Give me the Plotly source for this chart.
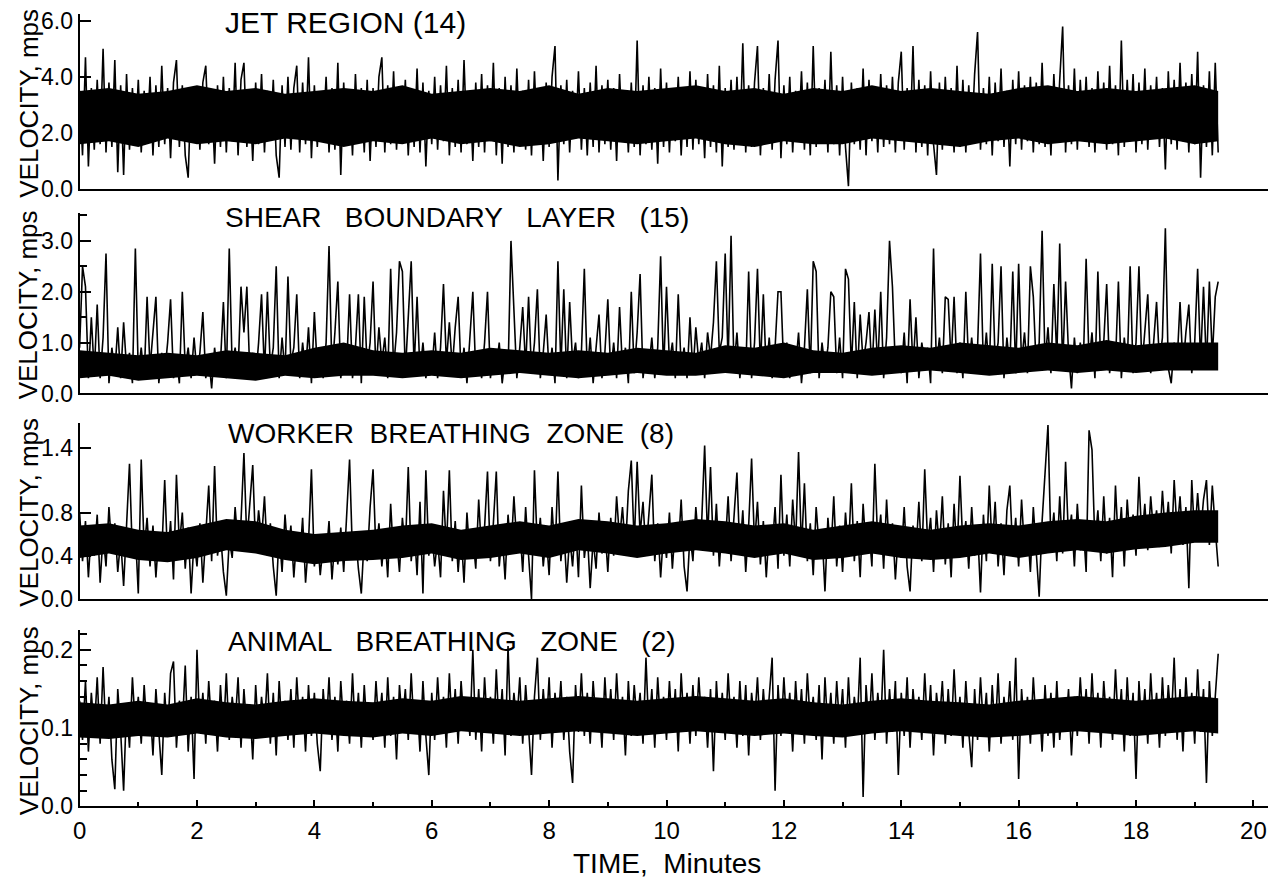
import plotly.graph_objects as go

# ---------------- data (velocity samples, one every 0.05 min) ----------------
SAMPLE_MIN = 0.05

jet_velocity = [
    3.5,1.2,4.7,0.8,3.6,1.4,3.9,1.6,5.0,1.3,3.8,1.5,4.6,0.6,3.7,0.5,4.1,1.4,3.6,1.7,
    3.9,1.3,3.5,1.8,4.0,1.2,3.7,1.5,4.4,1.6,3.6,1.1,3.8,4.6,1.5,3.7,1.2,0.4,3.6,1.8,
    3.5,1.4,3.8,4.4,1.6,3.3,0.9,3.7,1.5,4.0,1.3,3.6,1.7,4.5,1.2,3.9,4.5,1.5,3.4,1.0,
    3.8,1.6,4.1,1.3,3.5,1.8,3.9,1.2,0.4,3.7,1.5,4.0,1.4,3.6,4.4,1.3,3.8,1.6,4.7,1.1,
    3.7,1.5,3.4,1.9,4.0,1.3,3.6,1.4,4.5,0.5,3.8,1.6,3.5,1.2,4.1,1.7,3.6,1.3,3.9,1.0,
    3.6,1.5,4.0,4.7,1.3,3.7,1.6,4.2,1.4,3.5,1.8,3.9,1.2,3.6,1.5,4.3,1.3,3.8,0.8,3.5,
    1.6,4.0,1.4,3.7,1.7,4.4,1.2,3.6,1.5,3.9,1.3,4.6,1.6,3.5,1.0,3.8,1.5,4.1,1.3,3.7,
    1.7,4.5,1.2,3.6,0.9,4.0,1.5,3.7,1.3,4.3,1.6,3.5,1.4,3.9,1.2,4.2,1.7,3.6,1.0,3.8,
    1.5,4.0,5.1,0.3,3.7,1.6,3.9,1.3,3.5,1.8,4.2,1.4,3.6,1.2,3.8,1.5,4.4,1.3,3.7,1.6,
    3.9,1.4,3.6,1.0,4.1,1.7,3.5,1.3,3.8,1.5,5.3,1.2,3.7,1.6,4.0,1.4,3.6,0.9,4.3,1.5,
    3.8,1.3,3.5,1.7,4.0,1.2,3.6,1.5,4.2,1.4,3.9,1.6,3.5,1.1,4.1,1.5,3.7,1.3,4.4,0.8,
    3.6,1.5,3.9,1.4,4.0,1.6,5.2,1.3,3.7,1.5,3.8,5.1,1.2,3.6,1.7,4.1,1.4,3.9,5.3,1.1,
    3.7,1.6,4.0,1.3,3.5,1.8,4.2,1.4,3.8,1.2,5.1,1.5,3.6,1.7,3.9,1.3,4.9,1.6,3.7,1.2,
    4.0,1.5,0.1,3.8,1.6,3.6,1.4,4.3,1.2,3.9,1.7,3.5,1.3,4.1,1.5,3.7,1.6,4.0,1.3,3.8,
    4.9,1.4,3.6,1.7,5.1,1.3,3.9,1.5,3.7,1.2,4.2,1.6,0.5,3.8,1.4,4.0,1.7,3.6,1.3,4.4,
    1.5,3.9,1.3,3.7,1.8,4.1,5.6,1.4,3.6,1.6,4.0,1.2,3.8,1.7,4.3,1.5,3.5,0.8,3.9,1.6,
    4.2,1.4,3.7,1.7,4.0,1.3,3.8,1.6,4.5,1.5,3.6,1.2,4.1,1.7,3.9,5.8,1.3,3.7,1.6,4.3,
    1.4,3.9,1.8,4.0,1.5,3.6,1.3,4.2,1.7,3.8,1.4,4.4,1.6,3.7,1.2,5.3,1.5,3.9,1.7,4.1,
    1.3,3.8,1.6,4.3,1.4,3.7,1.8,4.0,1.5,3.6,0.7,4.2,1.6,3.9,1.4,4.5,1.7,3.8,1.3,4.1,
    1.6,4.9,0.4,3.7,1.5,4.2,1.2,4.5,1.3,
]

shear_velocity = [
    0.9,2.5,2.1,0.3,1.5,0.4,1.75,0.3,1.1,2.75,0.2,0.9,0.4,1.3,0.3,1.4,0.5,0.8,0.2,2.85,
    0.4,0.9,0.3,1.9,0.5,1.2,1.9,0.2,0.8,0.4,1.0,1.85,0.3,0.7,0.2,2.0,0.5,0.9,0.3,1.1,
    0.4,0.8,1.6,0.3,0.7,0.1,0.9,0.4,0.6,1.8,0.3,2.85,0.5,0.9,0.4,2.1,1.2,2.1,0.4,0.8,
    0.3,1.0,1.95,0.4,2.0,0.5,0.9,2.5,0.3,1.1,0.4,2.3,0.6,0.9,1.95,0.3,1.0,0.4,1.3,0.2,
    1.6,0.5,0.9,0.3,1.0,2.9,0.4,1.2,2.2,0.3,0.8,0.5,1.95,0.3,0.9,1.95,0.2,1.9,0.5,1.0,
    2.2,0.4,1.3,0.6,1.1,0.3,2.45,0.5,1.2,2.6,2.4,0.4,1.4,2.6,0.5,1.9,0.4,1.0,0.3,0.8,
    0.4,1.2,0.3,0.9,2.15,0.6,1.4,0.5,1.3,1.9,0.4,0.9,0.2,1.1,2.0,0.4,0.8,0.3,1.0,2.0,
    0.3,0.8,0.5,1.0,0.2,0.7,0.4,3.0,1.8,0.3,0.9,1.7,0.5,1.9,0.4,1.0,2.05,0.3,0.8,1.55,
    0.4,0.9,0.2,2.6,0.5,2.05,0.3,1.8,0.6,1.0,0.3,0.8,2.45,0.4,1.1,0.2,0.9,1.55,0.3,0.8,
    1.85,0.4,1.0,0.3,1.7,0.5,0.9,0.2,2.0,0.4,1.2,2.35,0.3,0.8,0.5,1.1,0.3,0.9,2.7,0.4,
    2.1,0.6,1.0,0.3,1.95,0.5,0.9,0.3,1.5,0.4,1.3,0.6,1.0,0.3,1.2,0.7,1.4,2.6,0.8,1.1,
    2.75,0.6,3.1,0.5,1.2,0.3,0.9,0.4,2.4,0.3,1.0,2.45,0.5,1.95,0.4,1.1,0.3,0.9,2.0,2.0,
    0.4,1.0,0.3,0.8,0.5,1.2,0.2,0.9,2.05,0.4,2.6,2.4,0.3,1.0,0.5,0.9,2.0,1.9,0.4,1.1,
    0.3,2.45,2.25,0.5,1.8,0.3,1.55,0.6,1.0,1.6,0.4,1.65,0.5,2.0,0.3,1.1,3.0,2.1,0.5,0.9,
    0.4,1.2,0.2,1.85,0.5,1.5,0.3,1.0,0.6,0.9,0.2,2.85,0.5,1.1,0.4,1.9,1.85,0.6,1.9,0.4,
    1.0,0.3,2.0,0.5,1.1,0.4,0.9,2.75,0.5,1.2,0.4,2.55,0.6,1.0,2.5,0.3,1.1,0.5,2.4,0.4,
    2.55,0.6,1.2,0.4,2.5,1.9,0.5,1.0,3.2,0.6,1.3,0.4,2.15,0.7,2.95,0.5,2.2,0.8,0.1,1.1,
    0.4,1.0,0.5,2.65,0.6,1.2,0.3,2.4,0.5,1.0,2.15,0.4,0.9,0.6,2.2,0.3,1.1,0.5,2.5,0.4,
    1.0,2.5,0.5,1.2,1.95,0.4,1.0,1.8,0.6,1.1,3.25,0.5,0.2,1.0,0.6,1.8,0.5,1.2,1.75,0.4,
    1.0,2.45,0.6,2.1,0.5,2.2,0.7,1.9,2.2,
]

worker_velocity = [
    0.80,0.35,0.72,0.20,0.65,0.40,0.78,0.15,0.60,0.30,0.85,0.45,0.70,0.25,0.55,0.12,0.68,1.25,0.40,0.62,
    0.05,1.29,0.45,0.75,0.30,0.68,0.20,0.60,0.42,1.10,0.35,0.72,0.18,1.15,0.50,0.80,0.28,0.66,0.05,0.55,
    0.30,0.70,0.15,0.58,1.05,0.35,1.23,0.40,0.62,0.25,0.03,0.55,0.38,0.85,0.48,0.72,1.35,0.52,0.90,1.24,
    0.45,0.82,0.55,0.95,0.40,0.70,0.30,0.03,0.62,0.25,0.78,0.40,0.68,0.20,0.58,0.35,0.75,0.15,0.52,1.20,
    0.30,0.60,0.22,0.50,0.38,0.72,0.18,0.55,0.32,0.66,0.25,0.80,1.29,0.40,0.62,0.28,0.05,0.58,0.35,0.85,
    1.20,0.42,0.70,0.30,0.62,0.20,0.88,0.38,0.58,0.25,0.75,0.45,1.22,0.35,0.68,0.22,0.90,0.05,1.19,0.40,
    0.65,0.30,0.55,0.20,1.00,0.45,1.19,0.35,0.72,0.25,0.62,0.15,0.80,0.38,0.58,0.28,0.92,0.42,0.66,1.18,
    0.35,0.70,1.18,0.30,0.62,0.18,0.78,0.42,0.95,0.50,0.68,0.25,0.85,0.40,0.00,1.19,0.45,0.75,0.30,0.60,
    0.22,0.85,0.40,1.18,0.35,0.65,0.15,0.58,0.30,0.72,0.20,1.05,0.38,0.62,0.10,0.55,0.28,0.80,0.42,0.68,
    0.25,0.75,0.40,0.95,0.55,0.85,0.45,1.00,1.28,0.50,1.27,0.60,0.90,0.42,0.78,1.15,0.35,0.70,0.20,0.62,
    0.38,0.80,0.28,0.68,0.45,0.92,0.30,0.07,0.60,0.35,0.85,0.50,0.72,1.42,0.55,1.22,0.40,0.88,0.30,0.70,
    0.48,0.95,0.35,0.75,1.17,0.42,0.82,0.25,0.68,1.30,0.50,0.90,0.32,0.72,0.20,0.65,0.45,0.85,0.28,1.15,
    0.40,0.78,0.30,0.92,0.50,1.36,0.45,1.07,0.35,0.70,0.22,0.85,0.48,0.62,0.07,0.75,0.40,0.95,0.30,0.68,
    0.25,0.80,0.42,1.07,0.35,0.72,0.20,0.88,0.45,0.65,0.30,1.25,0.50,0.78,0.28,0.92,0.40,0.70,0.18,0.62,
    0.38,0.85,0.30,0.07,0.68,0.42,0.90,0.35,1.20,0.50,0.75,0.25,0.82,0.45,0.95,0.32,0.70,0.20,0.88,0.40,
    1.14,0.48,0.72,0.28,0.85,0.40,0.65,0.06,0.78,0.35,1.05,0.45,0.90,0.30,0.70,0.22,0.82,1.05,0.42,0.75,
    0.30,0.92,0.45,0.68,0.25,0.85,0.38,0.02,0.72,1.17,1.61,0.50,0.80,0.35,0.95,0.42,1.27,0.55,0.78,0.30,
    0.88,0.45,0.70,0.25,1.56,1.38,0.50,0.82,0.35,0.95,0.42,0.75,0.20,1.05,0.48,0.85,0.30,0.92,0.52,0.78,
    0.40,1.13,0.55,0.88,0.45,0.95,0.60,0.82,0.48,1.00,0.58,0.90,0.42,1.10,0.62,0.95,0.50,0.85,0.10,1.10,
    0.55,0.98,0.60,0.92,1.10,0.50,1.05,0.65,0.30,
]

animal_velocity = [
    0.135,0.085,0.160,0.070,0.145,0.095,0.165,0.080,0.178,0.090,0.140,0.060,0.022,0.150,0.095,0.020,0.130,0.075,0.165,0.100,
    0.140,0.080,0.155,0.095,0.130,0.065,0.150,0.088,0.040,0.145,0.090,0.170,0.185,0.075,0.135,0.100,0.180,0.070,0.140,0.035,
    0.200,0.095,0.145,0.080,0.160,0.100,0.135,0.070,0.155,0.090,0.170,0.085,0.140,0.105,0.165,0.075,0.150,0.095,0.130,0.060,
    0.155,0.090,0.140,0.100,0.170,0.080,0.145,0.065,0.160,0.095,0.135,0.085,0.150,0.075,0.165,0.100,0.140,0.070,0.155,0.090,
    0.145,0.080,0.045,0.150,0.095,0.165,0.085,0.140,0.070,0.160,0.100,0.135,0.080,0.170,0.090,0.145,0.075,0.155,0.095,0.130,
    0.085,0.160,0.100,0.145,0.075,0.165,0.090,0.140,0.060,0.155,0.105,0.150,0.085,0.170,0.095,0.135,0.070,0.160,0.090,0.040,
    0.145,0.085,0.165,0.100,0.140,0.075,0.170,0.095,0.150,0.080,0.160,0.105,0.135,0.090,0.200,0.085,0.150,0.070,0.165,0.100,
    0.140,0.080,0.175,0.095,0.150,0.065,0.205,0.090,0.145,0.105,0.165,0.080,0.155,0.100,0.040,0.140,0.190,0.085,0.150,0.095,
    0.165,0.075,0.145,0.100,0.160,0.085,0.140,0.070,0.030,0.155,0.095,0.170,0.090,0.145,0.080,0.160,0.105,0.135,0.075,0.165,
    0.095,0.150,0.085,0.170,0.100,0.140,0.065,0.160,0.090,0.155,0.105,0.145,0.080,0.190,0.095,0.150,0.075,0.165,0.100,0.140,
    0.085,0.160,0.095,0.150,0.070,0.170,0.100,0.145,0.080,0.155,0.090,0.165,0.105,0.140,0.075,0.150,0.045,0.160,0.095,0.145,
    0.085,0.170,0.100,0.140,0.075,0.160,0.090,0.155,0.065,0.145,0.105,0.165,0.085,0.150,0.095,0.140,0.190,0.020,0.155,0.090,
    0.165,0.100,0.145,0.070,0.160,0.095,0.150,0.080,0.170,0.105,0.140,0.085,0.155,0.060,0.165,0.095,0.145,0.080,0.160,0.100,
    0.150,0.075,0.165,0.090,0.140,0.105,0.190,0.012,0.155,0.095,0.170,0.085,0.145,0.100,0.200,0.080,0.150,0.095,0.160,0.040,
    0.145,0.090,0.165,0.075,0.150,0.100,0.140,0.085,0.170,0.095,0.155,0.065,0.145,0.105,0.160,0.080,0.150,0.090,0.175,0.100,
    0.140,0.075,0.160,0.095,0.050,0.150,0.085,0.165,0.100,0.145,0.070,0.155,0.090,0.170,0.080,0.140,0.100,0.160,0.085,0.190,
    0.035,0.150,0.095,0.140,0.080,0.165,0.100,0.135,0.070,0.155,0.090,0.145,0.075,0.160,0.085,0.135,0.095,0.150,0.065,0.140,
    0.090,0.165,0.100,0.150,0.080,0.170,0.095,0.145,0.075,0.160,0.105,0.140,0.085,0.175,0.100,0.150,0.070,0.165,0.090,0.145,
    0.035,0.160,0.095,0.150,0.080,0.170,0.100,0.145,0.075,0.165,0.090,0.155,0.105,0.190,0.085,0.150,0.070,0.165,0.100,0.145,
    0.080,0.175,0.095,0.150,0.030,0.160,0.090,0.140,0.195,
]

# Dense core of each trace (where the recorder ink is solid black), read every 0.5 min
CORE_STEP_MIN = 0.5
jet_core_low = [1.6,1.7,1.5,1.8,1.6,1.7,1.6,1.8,1.7,1.5,1.7,1.6,1.8,1.6,1.7,1.5,1.6,1.8,1.7,1.6,
                1.7,1.8,1.6,1.5,1.7,1.6,1.6,1.8,1.7,1.6,1.5,1.7,1.8,1.6,1.7,1.6,1.7,1.8,1.6,1.7]
jet_core_high = [3.5,3.6,3.4,3.5,3.7,3.5,3.6,3.4,3.5,3.6,3.5,3.7,3.4,3.5,3.6,3.5,3.7,3.4,3.6,3.5,
                 3.6,3.7,3.5,3.6,3.4,3.6,3.5,3.7,3.5,3.6,3.5,3.4,3.6,3.7,3.5,3.6,3.5,3.6,3.7,3.5]
shear_core_low = [0.3,0.35,0.25,0.3,0.35,0.3,0.25,0.35,0.3,0.35,0.35,0.3,0.35,0.3,0.35,0.4,0.35,0.3,0.35,0.4,
                  0.35,0.35,0.4,0.35,0.3,0.4,0.4,0.35,0.4,0.45,0.4,0.35,0.4,0.45,0.4,0.45,0.4,0.45,0.45,0.45]
shear_core_high = [0.85,0.8,0.75,0.8,0.75,0.85,0.8,0.75,0.9,1.0,0.85,0.8,0.85,0.8,0.9,0.85,0.8,0.85,0.8,0.9,
                   0.85,0.8,0.95,0.9,1.0,0.85,0.8,0.9,0.95,0.9,1.0,0.95,0.9,1.0,0.95,1.05,0.95,1.0,1.0,1.0]
worker_core_low = [0.38,0.42,0.36,0.34,0.38,0.45,0.42,0.36,0.32,0.35,0.36,0.38,0.42,0.36,0.38,0.42,0.38,0.45,0.42,0.38,
                   0.42,0.45,0.42,0.38,0.42,0.36,0.38,0.42,0.38,0.36,0.38,0.42,0.38,0.42,0.45,0.42,0.46,0.48,0.52,0.52]
worker_core_high = [0.68,0.70,0.64,0.62,0.68,0.74,0.72,0.64,0.60,0.62,0.64,0.68,0.70,0.64,0.68,0.72,0.68,0.74,0.72,0.68,
                    0.70,0.74,0.72,0.68,0.70,0.64,0.68,0.72,0.68,0.64,0.68,0.70,0.68,0.72,0.74,0.72,0.77,0.80,0.82,0.82]
animal_core_low = [0.088,0.086,0.090,0.088,0.093,0.088,0.086,0.090,0.093,0.090,0.088,0.093,0.090,0.096,0.093,0.090,0.093,0.096,0.093,0.090,
                   0.093,0.096,0.093,0.090,0.093,0.090,0.088,0.093,0.096,0.093,0.090,0.088,0.090,0.093,0.096,0.093,0.090,0.093,0.096,0.093]
animal_core_high = [0.133,0.130,0.135,0.130,0.138,0.133,0.130,0.135,0.138,0.135,0.133,0.138,0.135,0.141,0.138,0.135,0.138,0.141,0.138,0.135,
                    0.138,0.141,0.138,0.135,0.138,0.133,0.130,0.135,0.138,0.135,0.133,0.130,0.135,0.138,0.141,0.138,0.135,0.138,0.141,0.138]

panel_titles = [
    "JET REGION (14)",
    "SHEAR\u00a0\u00a0\u00a0BOUNDARY\u00a0\u00a0\u00a0LAYER\u00a0\u00a0\u00a0(15)",
    "WORKER\u00a0\u00a0BREATHING\u00a0\u00a0ZONE\u00a0\u00a0(8)",
    "ANIMAL\u00a0\u00a0\u00a0BREATHING\u00a0\u00a0\u00a0ZONE\u00a0\u00a0\u00a0(2)",
]
y_tickvals = [[0, 2, 4, 6], [0, 1, 2, 3], [0, 0.4, 0.8, 1.4], [0, 0.1, 0.2]]
y_ticktext = [["0.0", "2.0", "4.0", "6.0"], ["0.0", "1.0", "2.0", "3.0"],
              ["0.0", "0.4", "0.8", "1.4"], ["0.0", "0.1", "0.2"]]
y_max = [6.25, 3.54, 1.63, 0.225]
y_minor = [None, 0.5, None, 0.02]
x_tickvals = list(range(0, 21, 2))
x_ticktext = [str(v) for v in x_tickvals]
y_title = "VELOCITY, mps"
x_title = "TIME,\u00a0\u00a0Minutes"

series = [jet_velocity, shear_velocity, worker_velocity, animal_velocity]
cores = [(jet_core_low, jet_core_high), (shear_core_low, shear_core_high),
         (worker_core_low, worker_core_high), (animal_core_low, animal_core_high)]

# ---------------- layout geometry (pixels of the 1281x882 page) ----------------
W, H = 1281, 882
FONT = "Liberation Sans, Arial, Helvetica, sans-serif"
panel_px = [(187, 8), (396, 212), (606, 426), (818, 638)]   # (bottom, top)
title_px = [(217, 17), (217, 216), (220, 437), (220, 649)]
title_size = [30, 28, 28, 28]
ytitle_cy = [99, 305, 517, 730]

fig = go.Figure()
layout = dict(
    width=W, height=H, margin=dict(l=0, r=0, t=0, b=0),
    paper_bgcolor="white", plot_bgcolor="white", showlegend=False,
    font=dict(family=FONT, color="black"),
)
annotations = []

for k, vals in enumerate(series):
    sfx = "" if k == 0 else str(k + 1)
    t = [i * SAMPLE_MIN for i in range(len(vals))]
    t_end = t[-1]
    low, high = cores[k]
    ct = [min(i * CORE_STEP_MIN, t_end) for i in range(len(low))]
    fig.add_trace(go.Scatter(
        x=ct, y=low, mode="lines", line=dict(width=0, color="black"),
        xaxis="x" + sfx, yaxis="y" + sfx, hoverinfo="skip",
    ))
    fig.add_trace(go.Scatter(
        x=ct, y=high, mode="lines", line=dict(width=0, color="black"),
        fill="tonexty", fillcolor="black",
        xaxis="x" + sfx, yaxis="y" + sfx, hoverinfo="skip",
    ))
    fig.add_trace(go.Scatter(
        x=t, y=vals, mode="lines",
        line=dict(color="black", width=1.6),
        xaxis="x" + sfx, yaxis="y" + sfx, hoverinfo="skip",
    ))
    bottom, top = panel_px[k]
    last = (k == 3)
    xa = dict(
        domain=[73 / W, 1268 / W], range=[0, 20.25], anchor="y" + sfx,
        showline=True, linecolor="black", linewidth=2,
        showgrid=False, zeroline=False,
        showticklabels=last,
        ticks="inside" if last else "", ticklen=6, tickwidth=1.5, tickcolor="black",
        tickvals=x_tickvals, ticktext=x_ticktext,
        tickfont=dict(size=24, family=FONT, color="black"),
        ticklabelstandoff=2,
    )
    if last:
        xa["minor"] = dict(dtick=1, ticks="inside", ticklen=4, tickcolor="black")
    ya = dict(
        domain=[1 - bottom / H, 1 - top / H], range=[0, y_max[k]], anchor="x" + sfx,
        showline=True, linecolor="black", linewidth=2,
        showgrid=False, zeroline=False,
        ticks="inside", ticklen=11, tickwidth=1.5, tickcolor="black",
        tickvals=y_tickvals[k], ticktext=y_ticktext[k],
        tickfont=dict(size=23, family=FONT, color="black"),
    )
    if y_minor[k] is not None:
        ya["minor"] = dict(dtick=y_minor[k], ticks="inside", ticklen=7, tickcolor="black")
    layout["xaxis" + sfx] = xa
    layout["yaxis" + sfx] = ya

    tx, ty = title_px[k]
    annotations.append(dict(
        text=panel_titles[k], xref="paper", yref="paper",
        x=tx / W, y=1 - ty / H, xanchor="left", yanchor="middle",
        showarrow=False, font=dict(size=title_size[k], family=FONT, color="black"),
    ))
    annotations.append(dict(
        text=y_title, xref="paper", yref="paper",
        x=22 / W, y=1 - ytitle_cy[k] / H, xanchor="center", yanchor="middle",
        textangle=-90, showarrow=False, font=dict(size=26, family=FONT, color="black"),
    ))

annotations.append(dict(
    text=x_title, xref="paper", yref="paper",
    x=664 / W, y=0, xanchor="center", yanchor="bottom", yshift=-12,
    showarrow=False, font=dict(size=28, family=FONT, color="black"),
))
layout["annotations"] = annotations
fig.update_layout(**layout)
fig.write_html("out.html")
